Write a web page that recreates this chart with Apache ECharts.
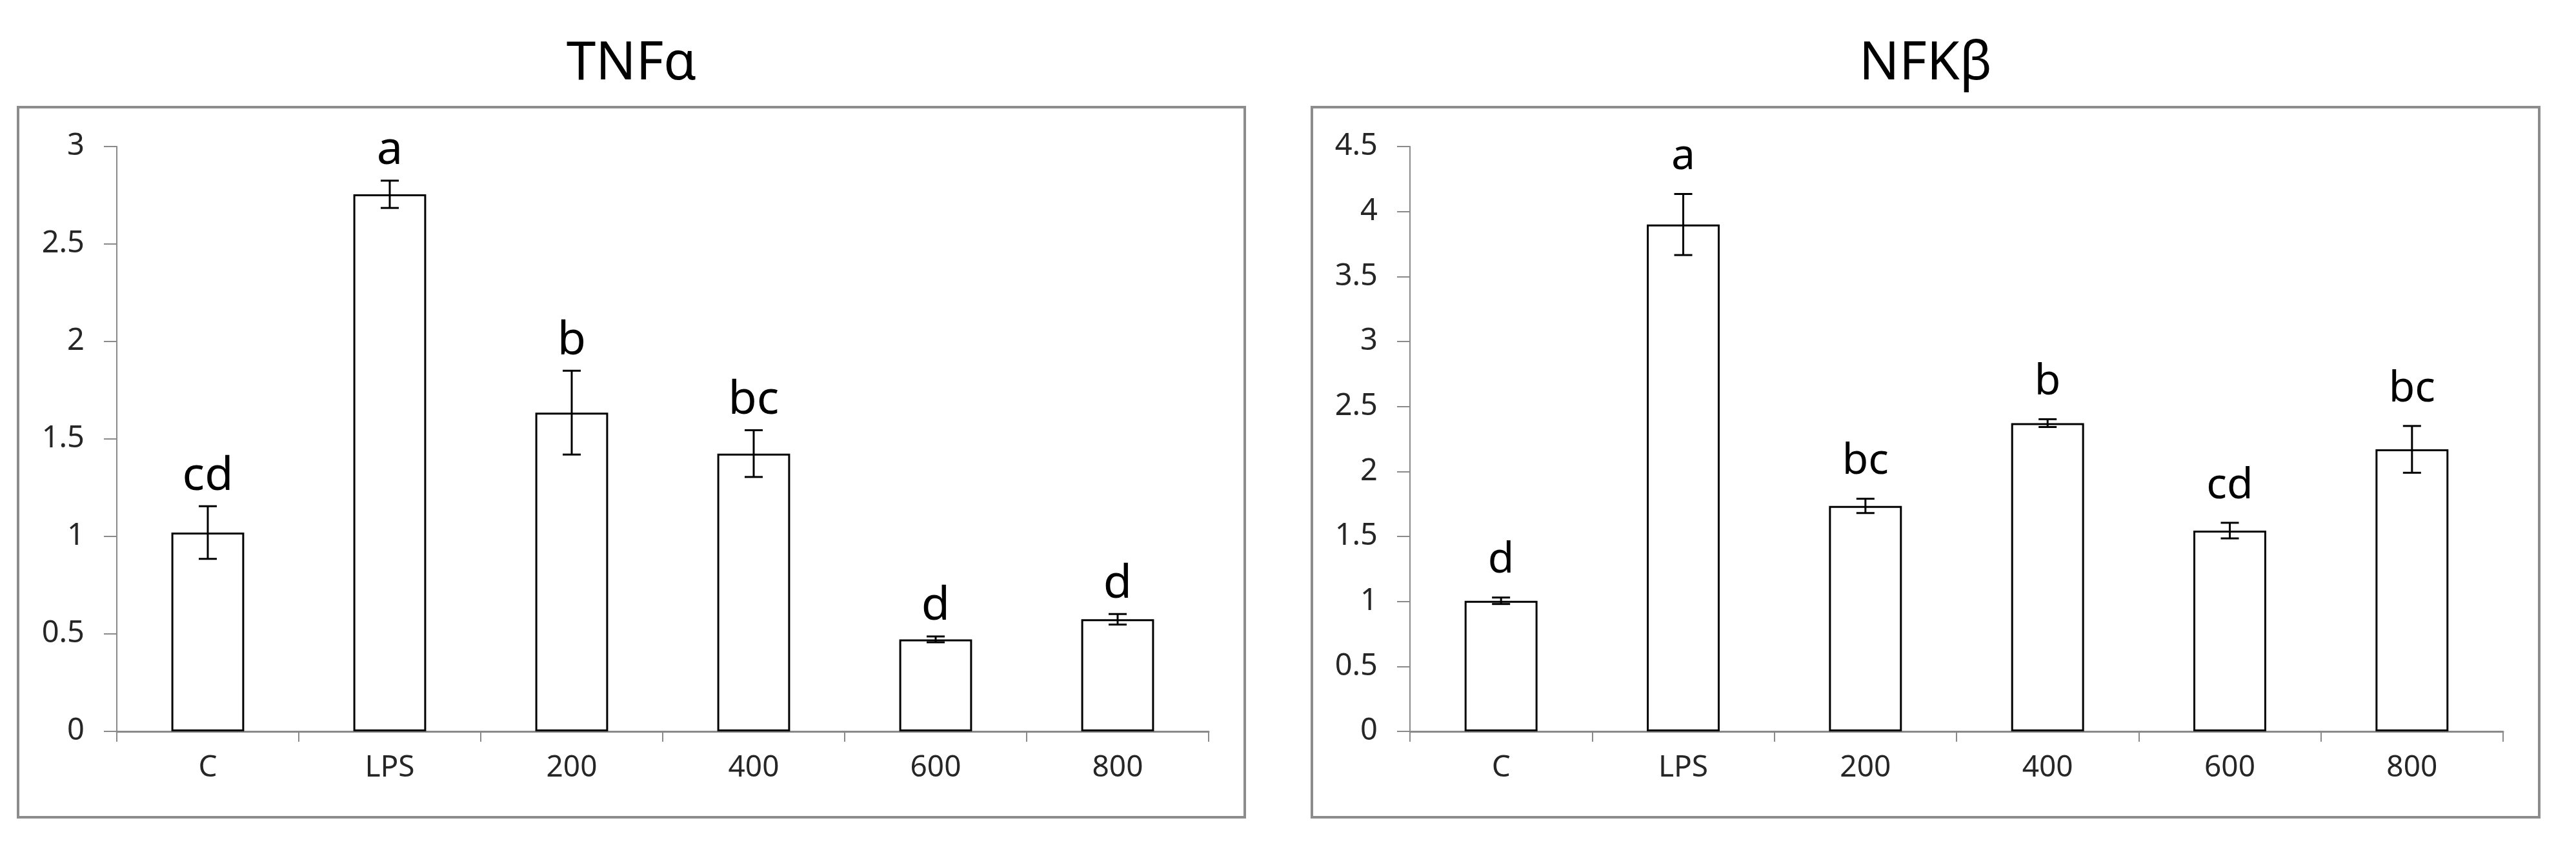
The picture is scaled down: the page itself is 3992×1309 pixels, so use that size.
<!DOCTYPE html>
<html>
<head>
<meta charset="utf-8">
<script src="https://cdn.jsdelivr.net/npm/echarts@6/dist/echarts.min.js"></script>
<style>
  html, body { margin: 0; padding: 0; background: #fff; }
  #chart { width: 3992px; height: 1309px; }
</style>
</head>
<body>
<div id="chart"></div>
<script>
  // categories shared by both panels
  var categories = ['C', 'LPS', '200', '400', '600', '800'];

  // TNFα
  var tnfValues = [1.02, 2.755, 1.635, 1.425, 0.472, 0.575];
  var tnfErrors = [0.135, 0.07, 0.215, 0.12, 0.015, 0.027];
  var tnfLetters = ['cd', 'a', 'b', 'bc', 'd', 'd'];
  var tnfTicks = [0, 3, 0.5];

  // NFKβ
  var nfkValues = [1.005, 3.9, 1.735, 2.372, 1.545, 2.17];
  var nfkErrors = [0.025, 0.235, 0.055, 0.03, 0.06, 0.18];
  var nfkLetters = ['d', 'a', 'bc', 'b', 'cd', 'bc'];
  var nfkTicks = [0, 4.5, 0.5];

  var font = '"Noto Sans", "Open Sans", sans-serif';
  var axisGray = '#8a8a8a';

  var panels = [
    {title: 'TNFα', values: tnfValues, errors: tnfErrors, letters: tnfLetters, ticks: tnfTicks,
      frame: {x: 28, y: 166, width: 1901, height: 1100}, grid: {left: 181, top: 227, width: 1692, height: 906},
      letterSize: 72, letterGap: 10},
    {title: 'NFKβ', values: nfkValues, errors: nfkErrors, letters: nfkLetters, ticks: nfkTicks,
      frame: {x: 2033, y: 166, width: 1902, height: 1100}, grid: {left: 2185, top: 227, width: 1694, height: 906},
      letterSize: 66, letterGap: 24}
  ];

  function errorBarRenderer (panel) {
    return function (params, api) {
      var i = params.dataIndex;
      var v = panel.values[i];
      var e = panel.errors[i];
      var top = api.coord([i, v + e]);
      var bottom = api.coord([i, v - e]);
      var x = top[0];
      var half = 14;
      var lineStyle = {stroke: '#000', lineWidth: 3};
      return {
        type: 'group',
        children: [
          {type: 'line', shape: {x1: x, y1: top[1], x2: x, y2: bottom[1]}, style: lineStyle},
          {type: 'line', shape: {x1: x - half, y1: top[1], x2: x + half, y2: top[1]}, style: lineStyle},
          {type: 'line', shape: {x1: x - half, y1: bottom[1], x2: x + half, y2: bottom[1]}, style: lineStyle},
          {
            type: 'text',
            x: x,
            y: top[1] - panel.letterGap,
            style: {
              text: panel.letters[i],
              font: panel.letterSize + 'px ' + font,
              fill: '#000',
              align: 'center',
              verticalAlign: 'bottom'
            }
          }
        ]
      };
    };
  }

  var grids = [];
  var xAxes = [];
  var yAxes = [];
  var series = [];
  var graphics = [];

  panels.forEach(function (p, k) {
    grids.push({left: p.grid.left, top: p.grid.top, width: p.grid.width, height: p.grid.height});
    xAxes.push({
      type: 'category',
      gridIndex: k,
      data: categories,
      boundaryGap: true,
      axisLine: {lineStyle: {color: axisGray, width: 3}},
      axisTick: {show: true, alignWithLabel: false, length: 16, lineStyle: {color: axisGray, width: 2}},
      axisLabel: {color: '#262626', fontSize: 46, fontFamily: font, margin: 34}
    });
    yAxes.push({
      type: 'value',
      gridIndex: k,
      min: p.ticks[0],
      max: p.ticks[1],
      interval: p.ticks[2],
      axisLine: {show: true, lineStyle: {color: axisGray, width: 2}},
      axisTick: {show: true, length: 20, lineStyle: {color: axisGray, width: 2}},
      splitLine: {show: false},
      axisLabel: {color: '#262626', fontSize: 47, fontFamily: font, margin: 50}
    });
    series.push({
      type: 'bar',
      xAxisIndex: k,
      yAxisIndex: k,
      data: p.values,
      barWidth: '40%',
      itemStyle: {color: '#fff', borderColor: '#000', borderWidth: 3},
      silent: true,
      animation: false
    });
    series.push({
      type: 'custom',
      xAxisIndex: k,
      yAxisIndex: k,
      data: p.values.map(function (v, i) { return [i, v + p.errors[i]]; }),
      renderItem: errorBarRenderer(p),
      z: 5,
      silent: true,
      animation: false
    });
    graphics.push({
      type: 'rect',
      shape: p.frame,
      style: {fill: 'none', stroke: '#8c8c8c', lineWidth: 4},
      z: -1
    });
    graphics.push({
      type: 'text',
      x: p.frame.x + p.frame.width / 2,
      y: 100,
      style: {
        text: p.title,
        font: '82px ' + font,
        fill: '#000',
        align: 'center',
        verticalAlign: 'middle'
      }
    });
  });

  var myChart = echarts.init(document.getElementById('chart'));
  myChart.setOption({
    backgroundColor: '#fff',
    animation: false,
    grid: grids,
    xAxis: xAxes,
    yAxis: yAxes,
    series: series,
    graphic: graphics
  });
</script>
</body>
</html>
